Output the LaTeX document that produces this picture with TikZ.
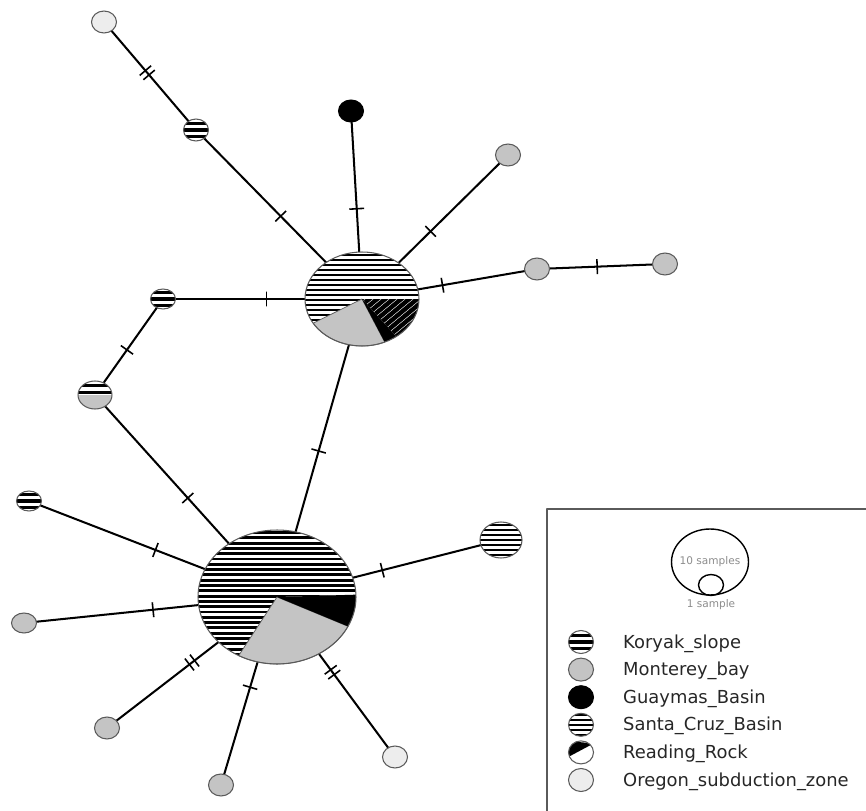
\documentclass[tikz,border=0pt]{standalone}
\usepackage{fontspec}
\newfontfamily\legendfont{DejaVu Sans}
\usetikzlibrary{shapes.geometric,backgrounds}
\definecolor{mgray}{HTML}{C4C4C4}
\definecolor{ogray}{HTML}{EDEDED}
\definecolor{rimgray}{HTML}{5A5A5A}
\begin{document}
\begin{tikzpicture}[line cap=round,line join=round,x=0.02cm,y=0.02cm,
	hap/.style={ellipse,draw=rimgray,line width=0.6pt,inner sep=0pt,minimum width=0.5cm,minimum height=0.44cm},
	hub/.style={ellipse,draw=rimgray,line width=0.6pt,inner sep=0pt},
	monterey/.style={hap,fill=mgray},
	oregon/.style={hap,fill=ogray},
	guaymas/.style={hap,fill=black,draw=black},
	koryak/.style={hap,fill=white,path picture={\foreach \k in {-1,0,1} \draw[black,line width=2pt] ([yshift=\k*3.6pt]path picture bounding box.west) -- ([yshift=\k*3.6pt]path picture bounding box.east);}},
	santacruz/.style={hap,fill=white,path picture={\foreach \k in {-3,...,3} \draw[black,line width=1.3pt] ([yshift=\k*2.8pt]path picture bounding box.west) -- ([yshift=\k*2.8pt]path picture bounding box.east);}},
	reading/.style={hap,fill=white,path picture={\fill[black] ([yshift=4pt]path picture bounding box.south west) -- ([yshift=-1.5pt]path picture bounding box.north east) -- (path picture bounding box.north west) -- cycle;}},
	mixed/.style={hap,fill=white,minimum width=0.68cm,minimum height=0.56cm,path picture={
		\fill[mgray] (path picture bounding box.west) rectangle (path picture bounding box.south east);
		\draw[black,line width=1.8pt] ([yshift=1.6pt]path picture bounding box.west) -- ([yshift=1.6pt]path picture bounding box.east);
		\draw[black,line width=1.8pt] ([yshift=5.4pt]path picture bounding box.west) -- ([yshift=5.4pt]path picture bounding box.east);}},
	edge/.style={line width=1.15pt},
	tick/.style={draw,sloped,inner sep=0pt,minimum width=0pt,minimum height=8.5pt,line width=0.9pt},
	key/.style={anchor=base west,font=\legendfont\fontsize{10.2}{12}\selectfont,text=black!85},
	tiny/.style={font=\legendfont\fontsize{6}{7}\selectfont,text=black!45}]
	\useasboundingbox (0,0) rectangle (866,-811);
	\clip (0,0) rectangle (866,-811);
	% upper hub
	\fill[white] (362,-299) ellipse[x radius=57,y radius=47];
	\begin{scope}
		\clip (362,-299) -- ++(0:57 and 47) arc[start angle=0,end angle=211,x radius=57,y radius=47] -- cycle;
		\foreach \y in {-355,-350,...,-245} \draw[line width=1.55pt] (300,\y) -- (425,\y);
	\end{scope}
	\filldraw[fill=mgray,draw=rimgray,line width=0.4pt] (362,-299) -- ++(211:57 and 47) arc[start angle=211,end angle=293.5,x radius=57,y radius=47] -- cycle;
	\fill (362,-299) -- ++(293.5:57 and 47) arc[start angle=293.5,end angle=307,x radius=57,y radius=47] -- cycle;
	\begin{scope}
		\clip (362,-299) -- ++(307:57 and 47) arc[start angle=307,end angle=360,x radius=57,y radius=47] -- cycle;
		\foreach \s in {240,248,...,420} \draw[line width=2.5pt] (\s,-360) -- ++(120,100);
	\end{scope}
	\node[hub,minimum width=2.28cm,minimum height=1.88cm] (hA) at (362,-299) {};
	% lower hub
	\fill[white] (277,-597) ellipse[x radius=79,y radius=67];
	\begin{scope}
		\clip (277,-597) -- ++(2:79 and 67) arc[start angle=2,end angle=241,x radius=79,y radius=67] -- cycle;
		\foreach \y in {-665,-659.7,...,-528} \draw[line width=1.6pt] (195,\y) -- (360,\y);
	\end{scope}
	\filldraw[fill=mgray,draw=rimgray,line width=0.4pt] (277,-597) -- ++(241:79 and 67) arc[start angle=241,end angle=334,x radius=79,y radius=67] -- cycle;
	\fill (277,-597) -- ++(334:79 and 67) arc[start angle=334,end angle=362,x radius=79,y radius=67] -- cycle;
	\node[hub,minimum width=3.16cm,minimum height=2.68cm] (hB) at (277,-597) {};
	% haplotypes
	\node[oregon] (o1) at (104,-22) {};
	\node[koryak] (k1) at (196,-130) {};
	\node[guaymas] (g1) at (351,-111) {};
	\node[monterey] (m1) at (508,-155) {};
	\node[monterey] (m2) at (537,-269) {};
	\node[monterey] (m3) at (665,-264) {};
	\node[koryak,minimum height=0.4cm] (k2) at (163,-299) {};
	\node[mixed] (x1) at (95,-395) {};
	\node[koryak,minimum height=0.4cm] (k3) at (29,-501) {};
	\node[monterey,minimum height=0.4cm] (m4) at (24,-623) {};
	\node[santacruz,minimum width=0.84cm,minimum height=0.72cm] (s1) at (501,-540) {};
	\node[monterey] (m5) at (107,-728) {};
	\node[monterey] (m6) at (221,-785) {};
	\node[oregon] (o2) at (395,-757) {};
	\begin{pgfonlayer}{background}
		\draw[edge] (o1.center) -- node[tick,pos=.45]{} node[tick,pos=.49]{} (k1.center);
		\draw[edge] (k1.center) -- node[tick,pos=.51]{} (hA.center);
		\draw[edge] (g1.center) -- node[tick,pos=.52]{} (hA.center);
		\draw[edge] (m1.center) -- node[tick,pos=.53]{} (hA.center);
		\draw[edge] (hA.center) -- node[tick,pos=.46]{} (m2.center);
		\draw[edge] (m2.center) -- node[tick,pos=.47]{} (m3.center);
		\draw[edge] (k2.center) -- node[tick,pos=.52]{} (hA.center);
		\draw[edge] (k2.center) -- node[tick,pos=.53]{} (x1.center);
		\draw[edge] (x1.center) -- node[tick,pos=.51]{} (hB.center);
		\draw[edge] (hA.center) -- node[tick,pos=.51]{} (hB.center);
		\draw[edge] (k3.center) -- node[tick,pos=.51]{} (hB.center);
		\draw[edge] (m4.center) -- node[tick,pos=.51]{} (hB.center);
		\draw[edge] (hB.center) -- node[tick,pos=.47]{} (s1.center);
		\draw[edge] (hB.center) -- node[tick,pos=.485]{} node[tick,pos=.515]{} (m5.center);
		\draw[edge] (hB.center) -- node[tick,pos=.48]{} (m6.center);
		\draw[edge] (hB.center) -- node[tick,pos=.455]{} node[tick,pos=.485]{} (o2.center);
	\end{pgfonlayer}
	% legend
	\draw[rimgray,line width=0.9pt] (547,-509) rectangle (880,-830);
	\node[ellipse,draw,line width=0.8pt,inner sep=0pt,minimum width=1.54cm,minimum height=1.32cm] (big) at (710,-562) {};
	\node[ellipse,draw,line width=0.8pt,inner sep=0pt,minimum width=0.5cm,minimum height=0.42cm] (small) at (711,-585) {};
	\node[tiny] (tenlbl) at (big.center) {10 samples};
	\node[tiny] (onelbl) at (711,-605) {1 sample};
	\foreach \sty/\name [count=\i from 0] in {koryak/Koryak\_slope,monterey/Monterey\_bay,guaymas/Guaymas\_Basin,santacruz/Santa\_Cruz\_Basin,reading/Reading\_Rock,oregon/Oregon\_subduction\_zone}{
		\node[\sty,minimum width=0.5cm,minimum height=0.46cm] (icon\i) at (581,{-642-27.6*\i}) {};
		\node[key] (key\i) at (617,{-648-27.6*\i}) {\name};
	}
\end{tikzpicture}
\end{document}
